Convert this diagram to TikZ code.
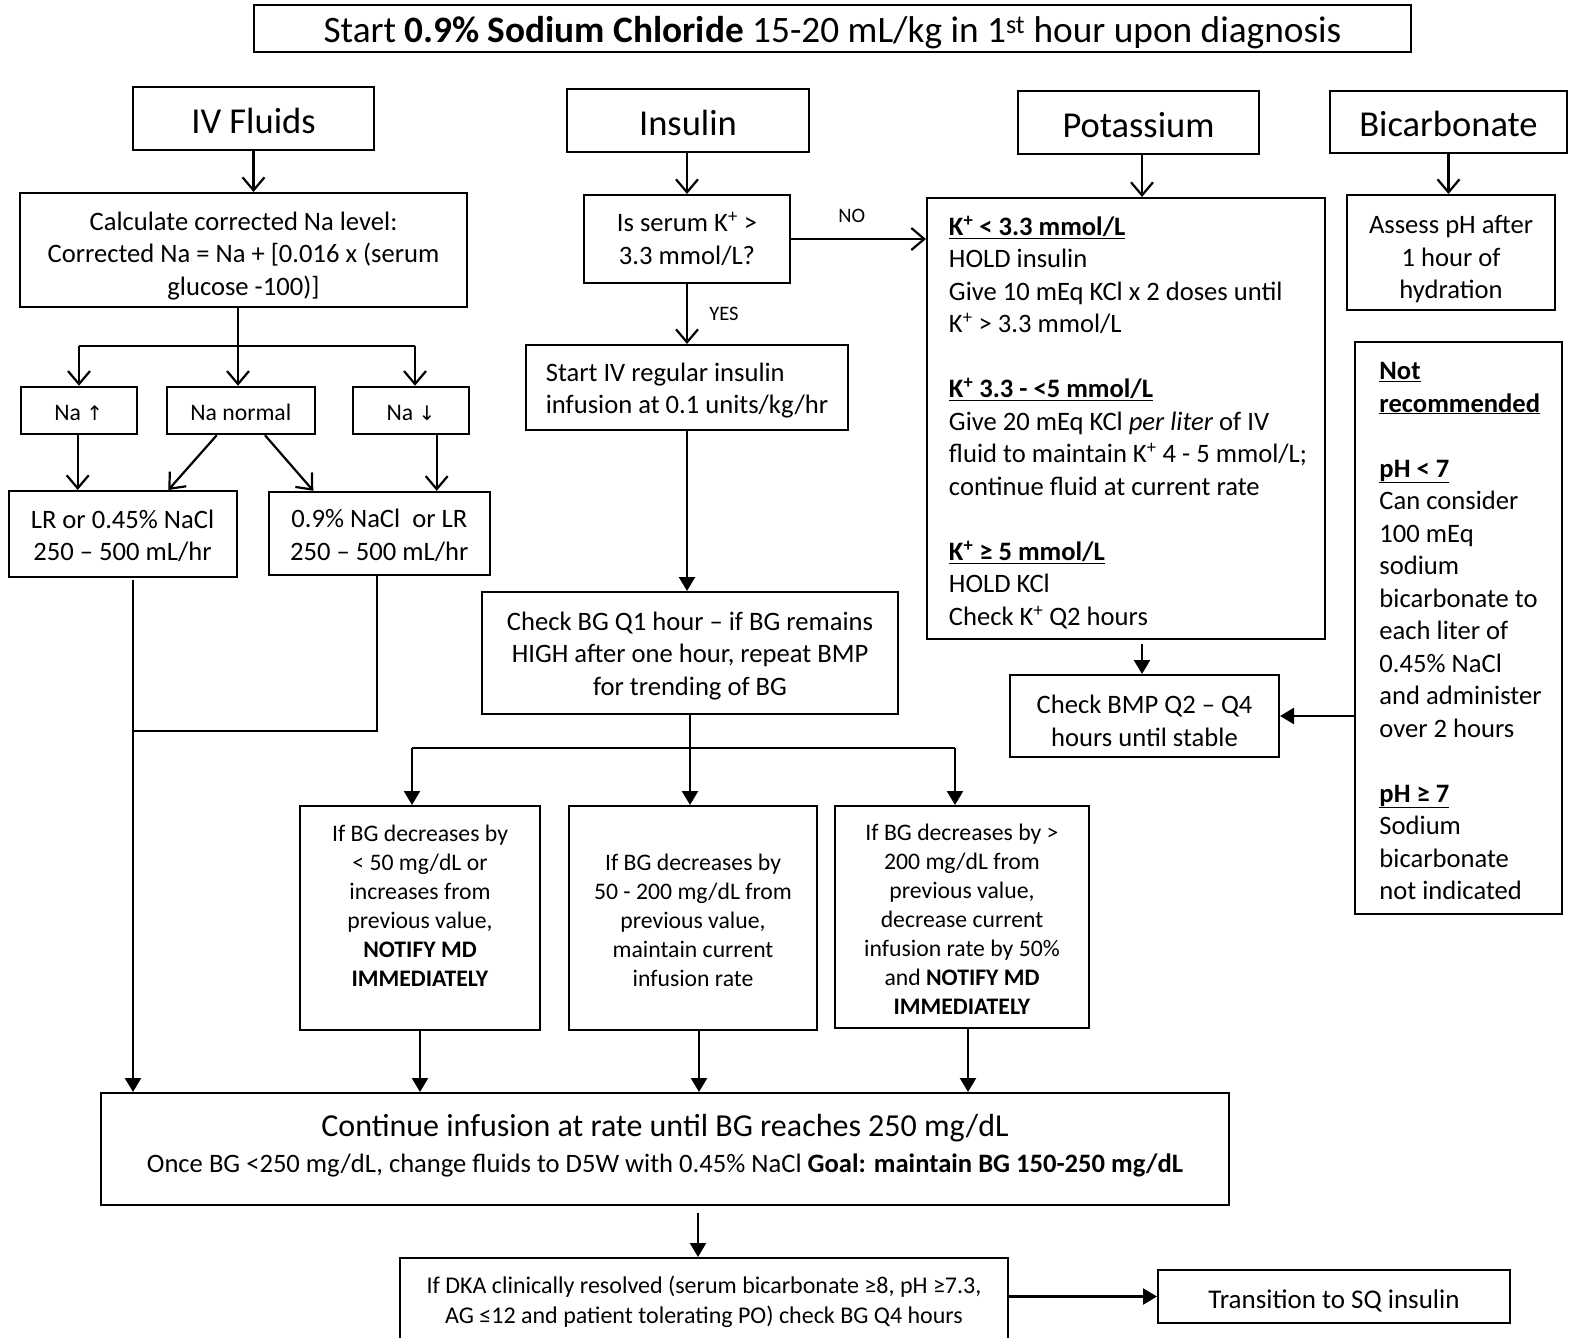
\documentclass[tikz,border=0pt]{standalone}
\usepackage{fontspec}
\setmainfont{Carlito}
\newfontfamily\dejavu{DejaVu Sans}
\usetikzlibrary{arrows.meta,calc}
\newcommand\fbody{\fontsize{26.6}{32.5}\selectfont}
\newcommand\fhead{\fontsize{36.5}{44}\selectfont}
\newcommand\ftitle{\fontsize{37.3}{44}\selectfont}
\newcommand\fsmall{\fontsize{23.7}{29}\selectfont}
\newcommand\ftiny{\fontsize{20.5}{24}\selectfont}
\newcommand\fcont{\fontsize{32}{36}\selectfont}
\newcommand\fdka{\fontsize{24}{30}\selectfont}
\newcommand\ftrans{\fontsize{27}{32}\selectfont}
\tikzset{
  box/.style={draw, line width=2pt, inner sep=0pt},
  txt/.style={inner sep=0pt, align=center},
  openarr/.style={line width=2.2pt, -{Straight Barb[length=13pt,width=22pt,line width=2.2pt]}},
  fillarr/.style={line width=2.4pt, -{Triangle[length=14pt,width=16pt]}},
  plainln/.style={line width=2.4pt},
}
% name, cx, cy, width, height, text drop, text style, text
\newcommand\tbox[8]{%
  \node[box, minimum width=#4pt, minimum height=#5pt] (#1) at (#2,#3) {};
  \node[txt, yshift={-1pt*(#6)}, #7] (#1-t) at (#1.center) {#8};}
\begin{document}
\begin{tikzpicture}[x=1pt,y=-1pt]
\useasboundingbox (0,0) rectangle (1572,1338);
\clip (0,0) rectangle (1572,1338);
% title
\node[box, line width=1.6pt, minimum width=1157pt, minimum height=47pt] (title) at (832.5,28.5) {};
\node[txt, yshift=-4pt, font=\ftitle] (title-t) at (title.center)
  {Start \textbf{0.9\% Sodium Chloride} 15-20 mL/kg in 1\textsuperscript{st} hour upon diagnosis};
% headers
\tbox{ivf}{253.5}{118.5}{241}{63}{2}{font=\fhead}{IV Fluids}
\tbox{ins}{688}{120.5}{242}{63}{2}{font=\fhead}{Insulin}
\tbox{pot}{1138.5}{122.5}{241}{63}{3}{font=\fhead}{Potassium}
\tbox{bic}{1448.5}{122}{237}{62}{1.5}{font=\fhead}{Bicarbonate}
% IV fluids column
\tbox{calc}{243.5}{250}{447}{114}{6}{font=\fbody}
  {Calculate corrected Na level:\\Corrected Na = Na + [0.016 x (serum\\glucose -100)]}
\tbox{naup}{78.7}{410.5}{116}{47.5}{2}{font=\fsmall}{Na {\dejavu\fontsize{20}{24}\selectfont ↑}}
\tbox{nanorm}{240.8}{410.5}{148.3}{47.5}{2}{font=\fsmall}{Na normal}
\tbox{nadown}{411}{410.5}{116.6}{47.5}{2}{font=\fsmall}{Na {\dejavu\fontsize{20}{24}\selectfont ↓}}
\tbox{lr}{122.5}{534}{228}{86}{2}{font=\fbody}{LR or 0.45\% NaCl\\250 – 500 mL/hr}
\tbox{ns}{379.3}{533.3}{221}{83}{2}{font=\fbody}{0.9\% NaCl~ or LR\\250 – 500 mL/hr}
% insulin column
\tbox{kq}{687}{239}{206}{88}{0}{font=\fbody}{Is serum K\textsuperscript{+} >\\3.3 mmol/L?}
\tbox{startiv}{687}{387.5}{322}{85}{3}{font=\fbody, align=left}
  {Start IV regular insulin\\infusion at 0.1 units/kg/hr}
\tbox{checkbg}{690}{653}{416}{122}{3}{font=\fbody}
  {Check BG Q1 hour – if BG remains\\HIGH after one hour, repeat BMP\\for trending of BG}
\tbox{bg1}{420}{918}{240}{224}{-12.5}{font=\fsmall}
  {If BG decreases by\\< 50 mg/dL or\\increases from\\previous value,\\\textbf{NOTIFY MD}\\\textbf{IMMEDIATELY}}
\tbox{bg2}{693}{918}{248}{224}{2}{font=\fsmall}
  {If BG decreases by\\50 - 200 mg/dL from\\previous value,\\maintain current\\infusion rate}
\tbox{bg3}{962}{917}{254}{222}{2}{font=\fsmall}
  {If BG decreases by >\\200 mg/dL from\\previous value,\\decrease current\\infusion rate by 50\%\\and \textbf{NOTIFY MD}\\\textbf{IMMEDIATELY}}
\tbox{cont}{665}{1149}{1128}{112}{-3}{}
  {{\fcont Continue infusion at rate until BG reaches 250 mg/dL}\\[11pt]
   {\fbody Once BG <250 mg/dL, change fluids to D5W with 0.45\% NaCl \textbf{Goal: maintain BG 150-250 mg/dL}}}
\tbox{dka}{704}{1299}{608}{82}{3}{font=\fdka}
  {If DKA clinically resolved (serum bicarbonate ≥8, pH ≥7.3,\\AG ≤12 and patient tolerating PO) check BG Q4 hours}
\tbox{trans}{1334}{1296.5}{352}{53}{4}{font=\ftrans}{Transition to SQ insulin}
% potassium column
\tbox{kinfo}{1126}{418.5}{398}{441}{4}{font=\fbody, align=left, xshift=2pt}
  {\underline{\textbf{K\textsuperscript{+} < 3.3 mmol/L}}\\HOLD insulin\\Give 10 mEq KCl x 2 doses until\\K\textsuperscript{+} > 3.3 mmol/L\\[32.5pt]%
   \underline{\textbf{K\textsuperscript{+} 3.3 - <5 mmol/L}}\\Give 20 mEq KCl \textit{per liter} of IV\\fluid to maintain K\textsuperscript{+} 4 - 5 mmol/L;\\continue fluid at current rate\\[32.5pt]%
   \underline{\textbf{K\textsuperscript{+} ≥ 5 mmol/L}}\\HOLD KCl\\Check K\textsuperscript{+} Q2 hours}
\tbox{bmp}{1144.5}{716}{269}{82}{5}{font=\fbody}{Check BMP Q2 – Q4\\hours until stable}
% bicarbonate column
\tbox{assess}{1451}{252.5}{208}{115}{7}{font=\fbody}{Assess pH after\\1 hour of\\hydration}
\tbox{notrec}{1458.5}{628}{207}{572}{3}{font=\fbody, align=left, xshift=2pt}
  {\underline{\textbf{Not}}\\\underline{\textbf{recommended}}\\[32.5pt]%
   \underline{\textbf{pH < 7}}\\Can consider\\100 mEq\\sodium\\bicarbonate to\\each liter of\\0.45\% NaCl\\and administer\\over 2 hours\\[32.5pt]%
   \underline{\textbf{pH ≥ 7}}\\Sodium\\bicarbonate\\not indicated}
% connectors: IV fluids
\draw[openarr] (ivf.south) -- (ivf.south |- calc.north);
\draw[plainln] (238,0 |- calc.south) -- (238,345.7) coordinate (nasplit);
\draw[plainln] (79,345.7) coordinate (nal) -- (415,345.7) coordinate (nar);
\draw[openarr] (nal) -- (nal |- naup.north);
\draw[openarr] (nasplit) -- (nasplit |- nanorm.north);
\draw[openarr] (nar) -- (nar |- nadown.north);
\draw[openarr] (77.7,0 |- naup.south) -- (77.7,0 |- lr.north);
\draw[openarr] (216.7,0 |- nanorm.south) -- (168.3,0 |- lr.north);
\draw[openarr] (265,0 |- nanorm.south) -- (313.3,0 |- ns.north);
\draw[openarr] (436.7,0 |- nadown.south) -- (436.7,0 |- ns.north);
\draw[fillarr] (133,580) coordinate (lrdown) -- (lrdown |- cont.north);
\draw[plainln] (377,0 |- ns.south) -- (377,731) -- (133,731);
% connectors: insulin
\draw[openarr] (kq.north |- ins.south) -- (kq.north);
\draw[openarr] (kq.east) -- (kq.east -| kinfo.west) node[pos=0.45, above=12pt, font=\ftiny] (nolbl) {NO};
\draw[openarr] (kq.south) -- (startiv.north) node[midway, right=18pt, font=\ftiny] (yeslbl) {YES};
\draw[fillarr] (startiv.south) -- (startiv.south |- checkbg.north);
\draw[fillarr] (checkbg.south) -- (checkbg.south |- bg2.north);
\draw[plainln] (412,748) coordinate (bgl) -- (955,748) coordinate (bgr);
\draw[fillarr] (bgl) -- (bgl |- bg1.north);
\draw[fillarr] (bgr) -- (bgr |- bg3.north);
\draw[fillarr] (bg1.south) -- (bg1.south |- cont.north);
\draw[fillarr] ($(bg2.south)+(6,0)$) -- ($(bg2.south |- cont.north)+(6,0)$);
\draw[fillarr] ($(bg3.south)+(6,0)$) -- ($(bg3.south |- cont.north)+(6,0)$);
\draw[fillarr] ($(dka.north |- cont.south)+(-6,7)$) -- ($(dka.north)+(-6,0)$);
\draw[fillarr] (dka.east |- trans.west) -- (trans.west);
% connectors: potassium / bicarbonate
\draw[openarr] ($(pot.south)+(3.5,0)$) -- ($(pot.south |- kinfo.north)+(3.5,0)$);
\draw[fillarr] ($(bmp.north |- kinfo.south)+(-2.5,4)$) -- ($(bmp.north)+(-2.5,0)$);
\draw[fillarr] (notrec.west |- bmp.east) -- (bmp.east);
\draw[openarr] (bic.south) -- (bic.south |- assess.north);
\end{tikzpicture}
\end{document}
